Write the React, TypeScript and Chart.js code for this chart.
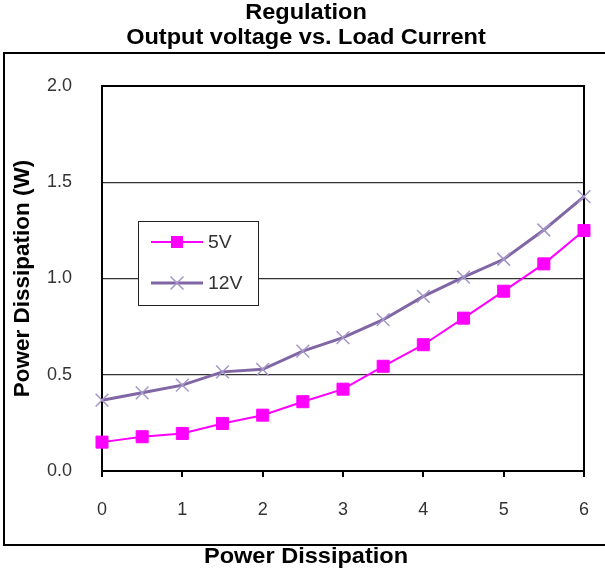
import React, { useEffect, useRef } from 'react';
import { Chart, registerables } from 'chart.js';

Chart.register(...registerables);

// ---- data ----
const loadCurrent = [0, 0.5, 1, 1.5, 2, 2.5, 3, 3.5, 4, 4.5, 5, 5.5, 6];
const series5V = [0.15, 0.178, 0.195, 0.247, 0.29, 0.36, 0.425, 0.544, 0.656, 0.794, 0.934, 1.076, 1.249];
const series12V = [0.368, 0.406, 0.446, 0.515, 0.528, 0.623, 0.693, 0.786, 0.907, 1.007, 1.1, 1.252, 1.425];
const seriesLabels = ['5V', '12V'];
const titleLines = ['Regulation', 'Output voltage vs. Load Current'];
const xAxisTitle = 'Power Dissipation';
const yAxisTitle = 'Power Dissipation (W)';
const xRange = [0, 6];
const yRange = [0, 2];
const xStep = 1;
const yStep = 0.5;

const FONT = "'Liberation Sans', Arial, sans-serif";

function stretchedText(ctx: CanvasRenderingContext2D, text: string, cx: number, cy: number, font: string, sx: number) {
  ctx.save();
  ctx.font = font;
  ctx.fillStyle = '#000000';
  ctx.textAlign = 'center';
  ctx.textBaseline = 'middle';
  ctx.translate(cx, cy);
  ctx.scale(sx, 1);
  ctx.fillText(text, 0, 0);
  ctx.restore();
}

const framePlugin = {
  id: 'outerFrame',
  beforeDraw(chart: any) {
    const { ctx, width, height } = chart;
    ctx.save();
    ctx.fillStyle = '#ffffff';
    ctx.fillRect(0, 0, width, height);
    ctx.strokeStyle = '#000000';
    ctx.lineWidth = 2;
    ctx.beginPath();
    ctx.moveTo(4, 53);
    ctx.lineTo(width, 53);
    ctx.moveTo(4, 52);
    ctx.lineTo(4, 546);
    ctx.moveTo(4, 545);
    ctx.lineTo(width, 545);
    ctx.stroke();
    ctx.restore();
  },
  beforeDatasetsDraw(chart: any) {
    const { ctx, chartArea: a } = chart;
    ctx.save();
    ctx.strokeStyle = '#000000';
    ctx.lineWidth = 2;
    ctx.beginPath();
    ctx.moveTo(a.left - 1, a.top);
    ctx.lineTo(a.right, a.top);
    ctx.lineTo(a.right, a.bottom + 6);
    ctx.stroke();
    ctx.restore();
  },
  afterDraw(chart: any) {
    const ctx = chart.ctx;
    const bold = `bold 22px ${FONT}`;
    stretchedText(ctx, titleLines[0], 306, 12.5, bold, 1.07);
    stretchedText(ctx, titleLines[1], 306, 37.5, bold, 1.07);
    stretchedText(ctx, xAxisTitle, 306, 557, bold, 1.07);
  },
};

const boxLegendPlugin = {
  id: 'boxLegend',
  afterDraw(chart: any) {
    const ctx = chart.ctx;
    const x = 138, y = 221, w = 120, h = 84;
    ctx.save();
    ctx.fillStyle = '#ffffff';
    ctx.fillRect(x, y, w, h);
    ctx.strokeStyle = '#222222';
    ctx.lineWidth = 1;
    ctx.strokeRect(x + 0.5, y + 0.5, w, h);
    chart.data.datasets.forEach((ds: any, i: number) => {
      const cy = 242 + i * 41;
      ctx.strokeStyle = ds.borderColor;
      ctx.lineWidth = ds.borderWidth;
      ctx.beginPath();
      ctx.moveTo(151, cy);
      ctx.lineTo(203, cy);
      ctx.stroke();
      const mx = 177;
      if (ds.pointStyle === 'rect') {
        ctx.fillStyle = ds.pointBackgroundColor;
        ctx.fillRect(mx - 6, cy - 6, 12, 12);
      } else {
        ctx.strokeStyle = ds.pointBorderColor;
        ctx.lineWidth = ds.pointBorderWidth;
        const s = 6.5;
        ctx.beginPath();
        ctx.moveTo(mx - s, cy - s);
        ctx.lineTo(mx + s, cy + s);
        ctx.moveTo(mx - s, cy + s);
        ctx.lineTo(mx + s, cy - s);
        ctx.stroke();
      }
      ctx.save();
      ctx.fillStyle = '#333333';
      ctx.font = `18px ${FONT}`;
      ctx.textBaseline = 'middle';
      ctx.textAlign = 'left';
      ctx.translate(208, cy + 1);
      ctx.scale(1.08, 1);
      ctx.fillText(ds.label, 0, 0);
      ctx.restore();
    });
    ctx.restore();
  },
};

export default function App() {
  const canvasRef = useRef<HTMLCanvasElement | null>(null);

  useEffect(() => {
    const canvas = canvasRef.current;
    if (!canvas) return;
    const chart = new Chart(canvas, {
      type: 'line',
      data: {
        datasets: [
          {
            label: seriesLabels[0],
            data: loadCurrent.map((x, i) => ({ x, y: series5V[i] })),
            borderColor: '#FF00FF',
            backgroundColor: '#FF00FF',
            borderWidth: 2,
            pointStyle: 'rect',
            pointRadius: 8.5,
            pointBackgroundColor: '#FF00FF',
            pointBorderColor: '#FF00FF',
            pointBorderWidth: 1,
            tension: 0,
            clip: false,
          } as any,
          {
            label: seriesLabels[1],
            data: loadCurrent.map((x, i) => ({ x, y: series12V[i] })),
            borderColor: '#8066A4',
            backgroundColor: '#8066A4',
            borderWidth: 3,
            pointStyle: 'crossRot',
            pointRadius: 9,
            pointBackgroundColor: '#A497C8',
            pointBorderColor: '#A497C8',
            pointBorderWidth: 1.5,
            tension: 0,
            clip: false,
          } as any,
        ],
      },
      options: {
        responsive: false,
        animation: false,
        devicePixelRatio: 1,
        layout: { padding: { left: 7, right: 21, top: 86, bottom: 0 } },
        plugins: {
          legend: { display: false },
          tooltip: { enabled: false },
          title: { display: false },
        },
        scales: {
          x: {
            type: 'linear',
            min: xRange[0],
            max: xRange[1],
            afterFit: (scale: any) => {
              scale.height = 100;
              scale.paddingLeft = 0;
              scale.paddingRight = 0;
            },
            border: { display: true, color: '#000000', width: 2 },
            grid: {
              drawOnChartArea: false,
              drawTicks: true,
              tickLength: 6,
              color: '#000000',
              lineWidth: 2,
            },
            ticks: {
              stepSize: xStep,
              padding: 22,
              color: '#333333',
              font: { family: FONT, size: 18 },
              maxRotation: 0,
            },
          },
          y: {
            type: 'linear',
            min: yRange[0],
            max: yRange[1],
            afterFit: (scale: any) => {
              scale.width = 95;
              scale.paddingTop = 0;
              scale.paddingBottom = 0;
            },
            border: { display: true, color: '#000000', width: 2 },
            grid: {
              drawTicks: false,
              color: '#333333',
              lineWidth: 1.2,
            },
            ticks: {
              stepSize: yStep,
              padding: 30,
              color: '#333333',
              font: { family: FONT, size: 18 },
              callback: (v: any) => Number(v).toFixed(1),
            },
            title: {
              display: true,
              text: yAxisTitle,
              color: '#000000',
              font: { family: FONT, size: 22.5, weight: 'bold', lineHeight: 1.2 },
              padding: { top: 2, bottom: 0 },
            },
          },
        },
      } as any,
      plugins: [framePlugin, boxLegendPlugin],
    });
    return () => chart.destroy();
  }, []);

  return (
    <div style={{ position: 'fixed', left: 0, top: 0, width: 605, height: 571, background: '#fff' }}>
      <canvas ref={canvasRef} width={605} height={571} style={{ display: 'block', width: 605, height: 571 }} />
    </div>
  );
}
